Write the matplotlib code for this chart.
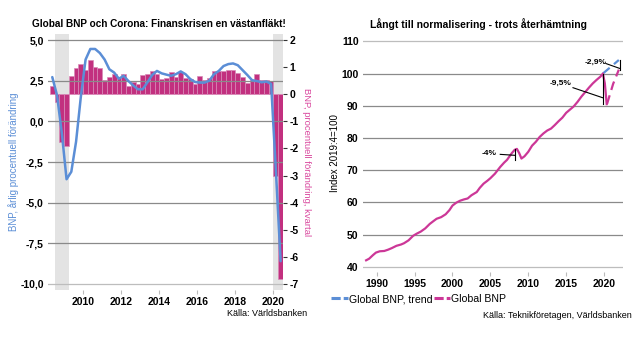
import matplotlib
matplotlib.use("Agg")
import matplotlib.pyplot as plt
from matplotlib.lines import Line2D
import numpy as np

plt.rcParams['font.family'] = ['Liberation Sans', 'DejaVu Sans']

# ---------------- Left chart data ----------------
quarters_start = 2008.375  # centre of 2008Q2
bnp_qoq = [0.30, -0.27, -1.78, -1.90, 0.67, 0.96, 1.13, 0.91, 1.26, 0.99,
           0.95, 0.52, 0.62, 0.74, 0.61, 0.74, 0.32, 0.46, 0.38, 0.70,
           0.74, 0.87, 0.74, 0.57, 0.59, 0.81, 0.64, 0.82, 0.59, 0.56,
           0.39, 0.68, 0.52, 0.59, 0.85, 0.84, 0.85, 0.88, 0.90, 0.78,
           0.64, 0.41, 0.51, 0.74, 0.52, 0.51, 0.47, -3.0, -6.8]
bnp_yoy = [2.72, 1.6, -0.7, -3.56, -3.1, -1.25, 1.5, 3.8, 4.45, 4.45,
           4.2, 3.8, 3.2, 3.0, 2.62, 2.8, 2.48, 2.21, 1.97, 1.97,
           2.4, 2.85, 3.1, 2.95, 2.87, 2.8, 2.9, 3.07, 2.9, 2.6,
           2.42, 2.38, 2.38, 2.5, 2.9, 3.1, 3.4, 3.52, 3.56, 3.45,
           3.15, 2.85, 2.53, 2.48, 2.4, 2.45, 2.3, -3.0, -8.6]
recessions = [(2008.5, 2009.25), (2020.0, 2020.5)]
left_yticks = [5.0, 2.5, 0.0, -2.5, -5.0, -7.5, -10.0]
right_yticks = [2, 1, 0, -1, -2, -3, -4, -5, -6, -7]
left_xticks = [2010, 2012, 2014, 2016, 2018, 2020]

# ---------------- Right chart data ----------------
gdp_years = [1988.6, 1989.0, 1989.5, 1989.9, 1990.4, 1991.0, 1991.5, 1992.0,
             1992.6, 1993.2, 1993.6, 1994.2, 1994.8, 1995.3, 1995.8, 1996.4,
             1997.0, 1997.5, 1997.9, 1998.5, 1999.1, 1999.6, 2000.0, 2000.5,
             2001.0, 2001.5, 2002.0, 2002.5, 2003.2, 2003.6, 2004.1, 2004.6,
             2005.0, 2005.6, 2006.3, 2006.8, 2007.2, 2007.8, 2008.2, 2008.5,
             2008.8, 2009.1, 2009.5, 2010.0, 2010.5, 2011.0, 2011.5, 2012.0,
             2012.5, 2013.0, 2013.5, 2014.0, 2014.5, 2015.0, 2015.5, 2016.0,
             2016.5, 2017.0, 2017.5, 2018.0, 2018.5, 2019.0, 2019.5, 2019.85,
             2020.1, 2020.35]
gdp_index = [42.0, 42.5, 43.6, 44.4, 44.8, 44.9, 45.3, 45.8,
             46.5, 46.9, 47.3, 48.2, 49.6, 50.3, 50.9, 51.9,
             53.3, 54.2, 54.9, 55.4, 56.3, 57.6, 59.0, 59.9,
             60.5, 60.9, 61.2, 62.2, 63.2, 64.5, 65.8, 66.7,
             67.5, 68.9, 71.0, 72.3, 73.2, 75.2, 76.3, 76.6,
             75.3, 73.6, 74.3, 75.7, 77.6, 78.8, 80.3, 81.4,
             82.3, 82.9, 84.0, 85.2, 86.3, 87.8, 88.8, 89.8,
             91.2, 92.8, 94.2, 95.6, 96.9, 98.0, 99.0, 100.0,
             97.0, 90.5]
fc_years = [2020.4, 2021.2, 2021.95]
fc_index = [90.6, 96.8, 101.2]
trend_years = [2019.85, 2021.95]
trend_index = [100.0, 104.2]
right_xticks = [1990, 1995, 2000, 2005, 2010, 2015, 2020]
right_yticks2 = [40, 50, 60, 70, 80, 90, 100, 110]

BLUE = '#5b8ed6'
MAG = '#c2307f'
MAGL = '#cc3797'
PINK_TXT = '#d9489e'
GRID = '#8a8a8a'

W, H = 641, 339
fig = plt.figure(figsize=(W / 100, H / 100), dpi=100)

def box(x0, y0, x1, y1):
    return [x0 / W, 1 - y1 / H, (x1 - x0) / W, (y1 - y0) / H]

# ================= LEFT =================
ax = fig.add_axes(box(48, 34, 283, 290))
ax2 = ax.twinx()
ax.set_zorder(ax2.get_zorder() + 1)
ax.patch.set_visible(False)

ax.set_xlim(2008.15, 2020.5)
ax.set_ylim(-10.37, 5.37)
ax2.set_ylim(-7.22, 2.22)

for a, b in recessions:
    ax2.axvspan(a, b, color='#e3e3e3', zorder=0, lw=0)
for v in left_yticks:
    ax.axhline(v, color=GRID if v != -10.0 else '#bdbdbd', lw=0.9, zorder=1)

xs = [quarters_start + 0.25 * i for i in range(len(bnp_qoq))]
ax2.bar(xs, bnp_qoq, width=0.25, color=MAG, edgecolor='#d88ab8', linewidth=0.5, zorder=2)
ax.plot(xs, bnp_yoy, color=BLUE, lw=1.8, zorder=5, solid_capstyle='round')

ax.set_yticks(left_yticks)
ax.set_yticklabels([f"{v:.1f}".replace('.', ',') for v in left_yticks],
                   fontsize=7.5, fontweight='bold')
ax.tick_params(axis='y', length=0, pad=3)
ax2.set_yticks(right_yticks)
ax2.set_yticklabels([str(v) for v in right_yticks], fontsize=7.5, fontweight='bold')
ax2.tick_params(axis='y', length=3, width=0.8, color='#333333', pad=1.5)
ax.set_xticks(left_xticks)
ax.set_xticklabels([str(v) for v in left_xticks], fontsize=7.5, fontweight='bold')
ax.tick_params(axis='x', length=3, color='#bbbbbb', pad=2)
for a in (ax, ax2):
    for s in a.spines.values():
        s.set_visible(False)

fig.text(159 / W, 1 - 24 / H, 'Global BNP och Corona: Finanskrisen en västanfläkt!',
         ha='center', va='center', fontsize=7.2, fontweight='bold')
fig.text(14 / W, 1 - 162 / H, 'BNP, årlig procentuell förändring', rotation=90,
         ha='center', va='center', fontsize=7, color=BLUE)
fig.text(307 / W, 1 - 162 / H, 'BNP, procentuell förändring, kvartal', rotation=270,
         ha='center', va='center', fontsize=6.8, color=PINK_TXT)
fig.text(307 / W, 1 - 313 / H, 'Källa: Världsbanken', ha='right', va='center',
         fontsize=6.5)

# ================= RIGHT =================
bx = fig.add_axes(box(362.7, 36.5, 623, 271.9))
bx.set_xlim(1988.15, 2022.5)
bx.set_ylim(38.4, 111.5)
for v in right_yticks2:
    bx.axhline(v, color=GRID if v not in (40, 110) else '#bdbdbd', lw=0.9, zorder=1)
bx.plot(gdp_years, gdp_index, color=MAGL, lw=1.6, zorder=4)
bx.plot(fc_years, fc_index, color=MAGL, lw=1.6, ls=(0, (4, 2.5)), zorder=4)
bx.plot(trend_years, trend_index, color=BLUE, lw=1.6, ls=(0, (4, 2.5)), zorder=3)

# annotations
k = dict(color='black', lw=0.8, zorder=6)
# -4%
bx.plot([2008.25, 2008.25], [76.6, 73.2], **k)
bx.plot([2006.3, 2008.25], [74.9, 74.6], **k)
bx.text(2004.8, 75.2, '-4%', ha='center', va='center', fontsize=6, fontweight='bold')
# -9,5%
bx.plot([2019.8, 2019.8], [100.0, 90.5], **k)
bx.plot([2015.9, 2019.8], [95.6, 92.5], **k)
bx.text(2014.3, 96.9, '-9,5%', ha='center', va='center', fontsize=6, fontweight='bold')
# -2,9%
bx.plot([2022.05, 2022.05], [104.3, 101.2], **k)
bx.plot([2020.25, 2022.05], [103.1, 101.6], **k)
bx.text(2018.9, 103.6, '-2,9%', ha='center', va='center', fontsize=6, fontweight='bold')

bx.set_yticks(right_yticks2)
bx.set_yticklabels([str(v) for v in right_yticks2], fontsize=7.5, fontweight='bold')
bx.tick_params(axis='y', length=0, pad=3)
bx.set_xticks(right_xticks)
bx.set_xticklabels([str(v) for v in right_xticks], fontsize=7.5, fontweight='bold')
bx.tick_params(axis='x', length=3, color='#bbbbbb', pad=2)
for s in bx.spines.values():
    s.set_visible(False)

fig.text(479 / W, 1 - 24 / H, 'Långt till normalisering - trots återhämtning',
         ha='center', va='center', fontsize=7.5, fontweight='bold')
fig.text(335 / W, 1 - 153 / H, 'Index 2019:4=100', rotation=90,
         ha='center', va='center', fontsize=7)
fig.text(632 / W, 1 - 315 / H, 'Källa: Teknikföretagen, Världsbanken', ha='right',
         va='center', fontsize=6.5)

handles = [Line2D([], [], color=BLUE, lw=2.2, ls=(0, (3, 1))),
           Line2D([], [], color=MAGL, lw=2.2, ls=(0, (3, 1)))]
fig.legend(handles, ['Global BNP, trend', 'Global BNP'], loc='center left',
           bbox_to_anchor=(331 / W, 1 - 299 / H), ncol=2, frameon=False,
           fontsize=7.6, handlelength=1.6, handletextpad=0.1, columnspacing=0.1,
           borderaxespad=0, borderpad=0)

fig.savefig('out.png', dpi=100)
